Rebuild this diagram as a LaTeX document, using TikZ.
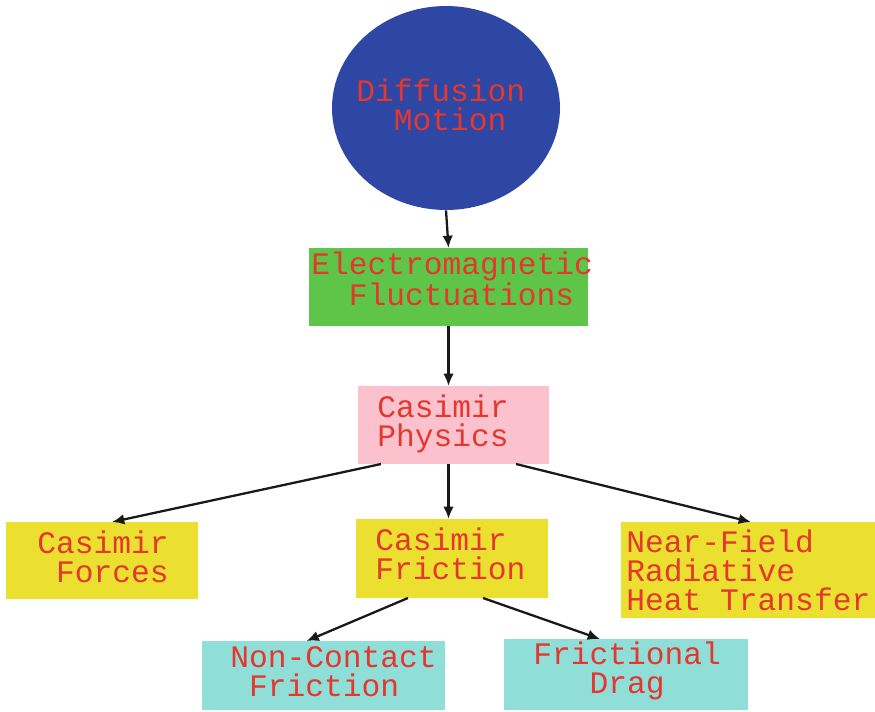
\documentclass[tikz,border=0pt]{standalone}
\usepackage{fontspec}
\setmonofont{Liberation Mono}
\usepackage{tikz}
\usetikzlibrary{shapes.geometric}
\usetikzlibrary{arrows.meta}
\usetikzlibrary{calc}
\usetikzlibrary{positioning}
\definecolor{dblue}{RGB}{46,70,164}
\definecolor{tred}{RGB}{228,55,45}
\definecolor{lgreen}{RGB}{95,197,73}
\definecolor{lpink}{RGB}{251,193,205}
\definecolor{lyellow}{RGB}{235,224,48}
\definecolor{lcyan}{RGB}{143,223,216}

\tikzset{
  box/.style={rectangle, inner sep=0pt, outer sep=0pt},
  txt/.style={anchor=base west, inner sep=0pt, align=left, text=tred,
    font=\ttfamily\fontsize{17.8pt}{16.5pt}\selectfont},
  link/.style={->, line width=1.3pt, black!90}
}

\begin{document}
\begin{tikzpicture}[x=0.02cm, y=-0.02cm, >={Latex[length=7pt,width=6pt]}]
  \useasboundingbox (0,0) rectangle (875,711);

  % boxes
  \node[ellipse, fill=dblue, inner sep=0pt, minimum width=4.56cm, minimum height=4.08cm] (diffusion) at (446,108) {};
  \node[box, fill=lgreen,  minimum width=5.58cm, minimum height=1.56cm] (em)         at (448.5,287) {};
  \node[box, fill=lpink,   minimum width=3.82cm, minimum height=1.56cm] (physics)    at (453.5,425) {};
  \node[box, fill=lyellow, minimum width=3.84cm, minimum height=1.54cm] (forces)     at (102,560.5) {};
  \node[box, fill=lyellow, minimum width=3.84cm, minimum height=1.58cm] (friction)   at (452,558.5) {};
  \node[box, fill=lyellow, minimum width=5.08cm, minimum height=1.92cm] (nearfield)  at (748,570) {};
  \node[box, fill=lcyan,   minimum width=4.86cm, minimum height=1.38cm] (noncontact) at (323.5,675.5) {};
  \node[box, fill=lcyan,   minimum width=4.88cm, minimum height=1.42cm] (drag)       at (626,674.5) {};

  % texts (placed at the baseline of the last line)
  \node[txt] (diffusion-t)  at (356,130) {Diffusion\\\phantom{xx}Motion};
  \node[txt] (em-t)         at (311,305) {Electromagnetic\\\phantom{xx}Fluctuations};
  \node[txt] (physics-t)    at (377,446) {Casimir\\Physics};
  \node[txt] (forces-t)     at (37,582)  {Casimir\\\phantom{x}Forces};
  \node[txt] (friction-t)   at (375,579) {Casimir\\Friction};
  \node[txt] (nearfield-t)  at (626,610) {Near-Field\\Radiative\\Heat Transfer};
  \node[txt] (noncontact-t) at (230,696) {Non-Contact\\\phantom{x}Friction};
  \node[txt] (drag-t)       at (533,693) {Frictional\\\phantom{xxx}Drag};

  % arrows
  \draw[link] (diffusion.south) -- (em.north);
  \draw[link] (em.south) -- (em.south |- physics.north);
  \draw[link] ($(physics.south west)+(23,0)$) -- ($(forces.north)+(10,0)$);
  \draw[link] ($(physics.south)+(-5,0)$) -- ($(physics.south |- friction.north)+(-5,0)$);
  \draw[link] ($(physics.south east)+(-33,0)$) -- ($(nearfield.north)+(3,0)$);
  \draw[link] ($(friction.south)+(-44,0)$) -- ($(noncontact.north)+(-17,0)$);
  \draw[link] ($(friction.south)+(31,0)$) -- ($(drag.north)+(-26,0)$);
\end{tikzpicture}
\end{document}
